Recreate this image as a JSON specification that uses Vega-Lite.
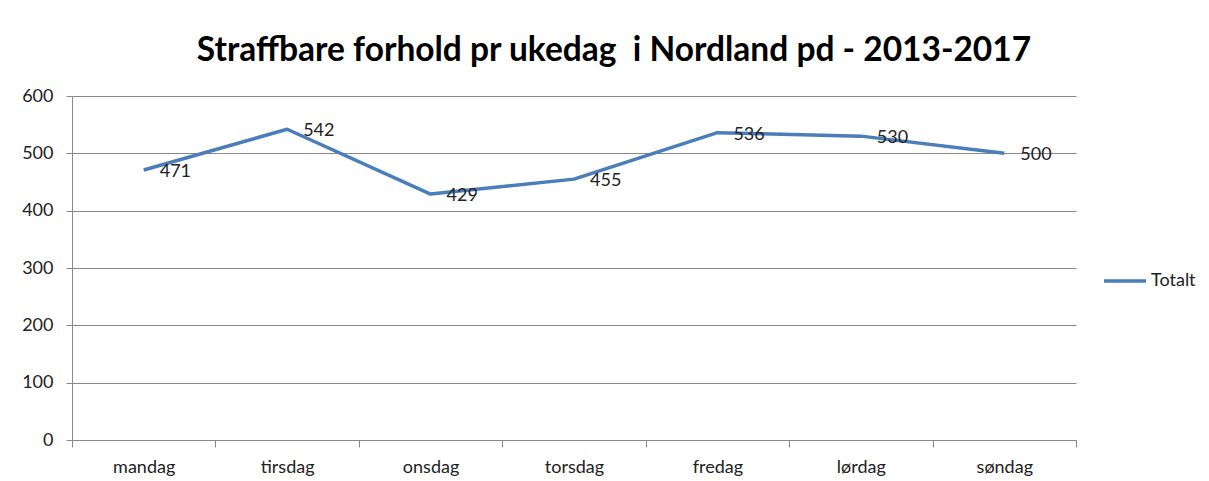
{
  "$schema": "https://vega.github.io/schema/vega-lite/v6.json",
  "autosize": "none",
  "width": 1004,
  "height": 344,
  "padding": {"left": 72, "top": 96, "right": 133, "bottom": 41},
  "background": "white",
  "title": {
    "text": "Straffbare forhold pr ukedag\u00a0 i Nordland pd - 2013-2017",
    "font": "Lato",
    "fontSize": 33.5,
    "fontWeight": "bold",
    "color": "#000000",
    "anchor": "middle",
    "frame": "group",
    "dx": 40,
    "offset": 19
  },
  "data": {
    "values": [
      {"dag": "mandag", "antall": 471, "serie": "Totalt"},
      {"dag": "tirsdag", "antall": 542, "serie": "Totalt"},
      {"dag": "onsdag", "antall": 429, "serie": "Totalt"},
      {"dag": "torsdag", "antall": 455, "serie": "Totalt"},
      {"dag": "fredag", "antall": 536, "serie": "Totalt"},
      {"dag": "lørdag", "antall": 530, "serie": "Totalt"},
      {"dag": "søndag", "antall": 500, "serie": "Totalt"}
    ]
  },
  "encoding": {
    "x": {
      "field": "dag",
      "type": "nominal",
      "sort": null,
      "scale": {"paddingInner": 0, "paddingOuter": 0},
      "axis": {
        "title": null,
        "labelAngle": 0,
        "labelFont": "Lato",
        "labelFontSize": 18,
        "labelColor": "#222222",
        "labelPadding": 11,
        "tickBand": "extent",
        "tickSize": 7,
        "tickColor": "#888888",
        "domainColor": "#888888",
        "grid": false
      }
    },
    "y": {
      "field": "antall",
      "type": "quantitative",
      "scale": {"domain": [0, 600], "nice": false},
      "axis": {
        "title": null,
        "values": [0, 100, 200, 300, 400, 500, 600],
        "labelFont": "Lato",
        "labelFontSize": 18,
        "labelColor": "#222222",
        "labelPadding": 13,
        "tickSize": 6,
        "tickColor": "#888888",
        "domainColor": "#888888",
        "gridColor": "#888888",
        "gridWidth": 1
      }
    }
  },
  "layer": [
    {
      "mark": {"type": "line", "strokeWidth": 3.5, "strokeJoin": "round"},
      "encoding": {
        "color": {
          "field": "serie",
          "type": "nominal",
          "scale": {"range": ["#4A7EBB"]},
          "legend": {
            "title": null,
            "orient": "none",
            "legendX": 1030,
            "legendY": 162,
            "symbolType": "stroke",
            "symbolSize": 1764,
            "symbolStrokeWidth": 3.5,
            "labelFont": "Lato",
            "labelFontSize": 18,
            "labelColor": "#222222",
            "labelOffset": 3
          }
        }
      }
    },
    {
      "mark": {"type": "text", "align": "left", "baseline": "middle", "dx": 16, "dy": 2, "font": "Lato", "fontSize": 18, "color": "#222222"},
      "encoding": {"text": {"field": "antall", "type": "quantitative"}}
    }
  ],
  "config": {"view": {"stroke": null}}
}
